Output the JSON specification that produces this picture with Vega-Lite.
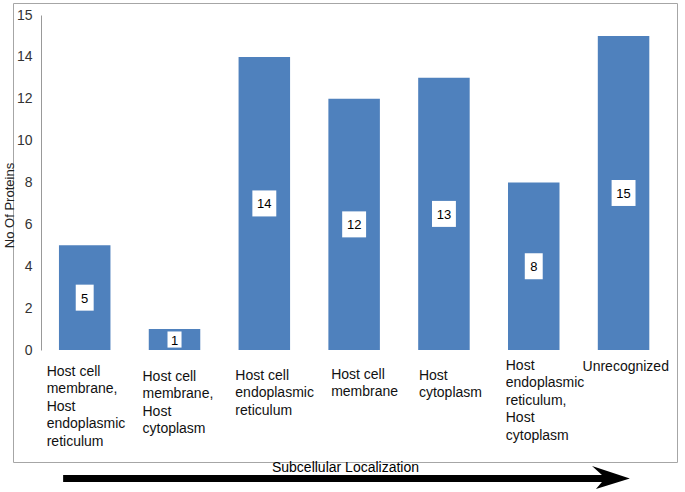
{
  "$schema": "https://vega.github.io/schema/vega-lite/v6.json",
  "width": 664,
  "height": 459,
  "autosize": {"type": "none"},
  "padding": {"left": 13, "top": 3, "right": 8, "bottom": 30},
  "background": "white",
  "config": {"view": {"stroke": "#a6a6a6", "strokeWidth": 1}, "font": "Liberation Sans"},
  "data": {"values": [
    {"loc": "Host cell|membrane,|Host|endoplasmic|reticulum", "count": 5},
    {"loc": "Host cell|membrane,|Host|cytoplasm", "count": 1},
    {"loc": "Host cell|endoplasmic|reticulum", "count": 14},
    {"loc": "Host cell|membrane", "count": 12},
    {"loc": "Host|cytoplasm", "count": 13},
    {"loc": "Host|endoplasmic|reticulum,|Host|cytoplasm", "count": 8},
    {"loc": "Unrecognized", "count": 15}
  ]},
  "layer": [
    {
      "mark": {"type": "bar", "color": "#4F81BD"},
      "encoding": {
        "x": {
          "field": "loc",
          "type": "nominal",
          "sort": null,
          "scale": {"paddingInner": 0.4265, "paddingOuter": 0.41, "align": 0.624},
          "axis": {
            "title": "Subcellular Localization",
            "titleFontSize": 14,
            "titleFontWeight": "normal",
            "titleColor": "#000",
            "titleY": 117,
            "titleBaseline": "middle",
            "offset": -112,
            "domain": false,
            "ticks": false,
            "labelAngle": 0,
            "labelAlign": "left",
            "labelBaseline": "top",
            "labelFontSize": 14,
            "labelColor": "#111",
            "labelLineHeight": 17.5,
            "labelLimit": 0,
            "labelOverlap": false,
            "labelExpr": "split(datum.label, '|')",
            "labelOffset": {
              "condition": [
                {"test": "datum.value == 'Host cell|membrane,|Host|endoplasmic|reticulum'", "value": -38},
                {"test": "datum.value == 'Host cell|membrane,|Host|cytoplasm'", "value": -32},
                {"test": "datum.value == 'Host cell|endoplasmic|reticulum'", "value": -29},
                {"test": "datum.value == 'Host cell|membrane'", "value": -23},
                {"test": "datum.value == 'Host|cytoplasm'", "value": -25},
                {"test": "datum.value == 'Host|endoplasmic|reticulum,|Host|cytoplasm'", "value": -28}
              ],
              "value": -41
            },
            "labelPadding": {
              "condition": [
                {"test": "datum.value == 'Host cell|membrane,|Host|endoplasmic|reticulum'", "value": 14},
                {"test": "datum.value == 'Host cell|membrane,|Host|cytoplasm'", "value": 19},
                {"test": "datum.value == 'Host cell|membrane'", "value": 17},
                {"test": "datum.value == 'Host|endoplasmic|reticulum,|Host|cytoplasm'", "value": 8},
                {"test": "datum.value == 'Unrecognized'", "value": 9}
              ],
              "value": 18
            }
          }
        },
        "y": {
          "field": "count",
          "type": "quantitative",
          "scale": {"domain": [0, 16], "range": [347, 12], "nice": false},
          "axis": {
            "title": "No Of Proteins",
            "values": [0, 2, 4, 6, 8, 10, 12, 14, 16],
            "labelExpr": "datum.value == 16 ? '15' : datum.label",
            "grid": false,
            "ticks": false,
            "offset": -28,
            "domainColor": "#999",
            "labelFontSize": 14,
            "labelColor": "#333",
            "labelPadding": 9,
            "titleFontSize": 13,
            "titleFontWeight": "normal",
            "titleColor": "#222",
            "titleX": -32,
            "titleY": 202,
            "titleAngle": -90,
            "titleAlign": "center",
            "titleBaseline": "middle"
          }
        }
      }
    },
    {
      "mark": {"type": "point", "filled": true, "fill": "white", "strokeWidth": 0, "opacity": 1, "size": 676},
      "encoding": {
        "x": {"field": "loc", "type": "nominal", "sort": null, "axis": null},
        "y": {"field": "count", "type": "quantitative", "scale": {"domain": [0, 32], "range": [347, 12], "nice": false}, "axis": null},
        "shape": {
          "condition": [
            {"test": "datum.count >= 10", "value": "M-0.92,-1H0.92V1H-0.92Z"},
            {"test": "datum.count < 2", "value": "M-0.54,-0.62H0.54V0.62H-0.54Z"}
          ],
          "value": "M-0.69,-1H0.69V1H-0.69Z"
        }
      }
    },
    {
      "mark": {"type": "text", "fontSize": 13, "color": "#000", "baseline": "middle", "align": "center", "dy": 1},
      "encoding": {
        "x": {"field": "loc", "type": "nominal", "sort": null, "axis": null},
        "y": {"field": "count", "type": "quantitative", "scale": {"domain": [0, 32], "range": [347, 12], "nice": false}, "axis": null},
        "text": {"field": "count", "type": "quantitative"}
      }
    },
    {
      "data": {"values": [{}]},
      "mark": {"type": "point", "filled": true, "fill": "#000", "strokeWidth": 0, "opacity": 1, "size": 360000,
        "shape": "M-0.97,-0.0117L0.826,-0.0117L0.793,-0.0417L0.919,0L0.806,0.035L0.826,0.0117L-0.97,0.0117Z"},
      "encoding": {
        "x": {"datum": "Host cell|membrane", "type": "nominal", "axis": null},
        "y": {"datum": -6.14, "type": "quantitative", "scale": {"domain": [0, 16], "range": [347, 12], "nice": false}, "axis": null}
      }
    }
  ],
  "resolve": {"scale": {"y": "independent"}, "axis": {"x": "independent"}}
}
